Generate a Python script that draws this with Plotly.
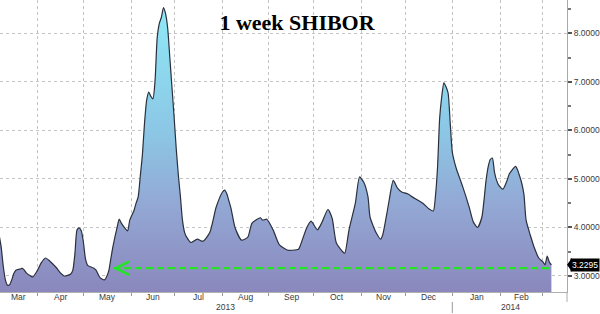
import plotly.graph_objects as go
import pandas as pd

# ---- data ----
dates = [
    "2013-03-06", "2013-03-07", "2013-03-08", "2013-03-11", "2013-03-12", "2013-03-13",
    "2013-03-14", "2013-03-15", "2013-03-18", "2013-03-20", "2013-03-21", "2013-03-22",
    "2013-03-25", "2013-03-27", "2013-03-28", "2013-04-01", "2013-04-03", "2013-04-05",
    "2013-04-09", "2013-04-12", "2013-04-16", "2013-04-18", "2013-04-23", "2013-04-24",
    "2013-04-25", "2013-04-26", "2013-04-29", "2013-04-30", "2013-05-01", "2013-05-02",
    "2013-05-03", "2013-05-08", "2013-05-09", "2013-05-13", "2013-05-15", "2013-05-17",
    "2013-05-20", "2013-05-21", "2013-05-23", "2013-05-24", "2013-05-27", "2013-05-29",
    "2013-05-30", "2013-05-31", "2013-06-04", "2013-06-05", "2013-06-06", "2013-06-07",
    "2013-06-10", "2013-06-11", "2013-06-12", "2013-06-13", "2013-06-14", "2013-06-17",
    "2013-06-18", "2013-06-19", "2013-06-20", "2013-06-21", "2013-06-24", "2013-06-25",
    "2013-06-26", "2013-06-27", "2013-06-28", "2013-07-01", "2013-07-02", "2013-07-03",
    "2013-07-04", "2013-07-05", "2013-07-08", "2013-07-09", "2013-07-11", "2013-07-16",
    "2013-07-18", "2013-07-19", "2013-07-24", "2013-07-29", "2013-08-01", "2013-08-02",
    "2013-08-05", "2013-08-06", "2013-08-07", "2013-08-09", "2013-08-14", "2013-08-19",
    "2013-08-21", "2013-08-27", "2013-08-28", "2013-08-30", "2013-09-04", "2013-09-09",
    "2013-09-13", "2013-09-17", "2013-09-20", "2013-09-23", "2013-09-26", "2013-09-30",
    "2013-10-03", "2013-10-07", "2013-10-10", "2013-10-14", "2013-10-16", "2013-10-21",
    "2013-10-22", "2013-10-24", "2013-10-29", "2013-10-31", "2013-11-04", "2013-11-06",
    "2013-11-07", "2013-11-12", "2013-11-14", "2013-11-15", "2013-11-19", "2013-11-20",
    "2013-11-22", "2013-11-26", "2013-11-28", "2013-12-03", "2013-12-05", "2013-12-12",
    "2013-12-17", "2013-12-19", "2013-12-20", "2013-12-23", "2013-12-24", "2013-12-25",
    "2013-12-26", "2013-12-27", "2013-12-30", "2013-12-31", "2014-01-01", "2014-01-02",
    "2014-01-03", "2014-01-08", "2014-01-13", "2014-01-15", "2014-01-17", "2014-01-21",
    "2014-01-23", "2014-01-24", "2014-01-27", "2014-01-28", "2014-01-29", "2014-01-30",
    "2014-01-31", "2014-02-04", "2014-02-06", "2014-02-07", "2014-02-12", "2014-02-13",
    "2014-02-14", "2014-02-17", "2014-02-18", "2014-02-19", "2014-02-21", "2014-02-25",
    "2014-02-27", "2014-03-03", "2014-03-04", "2014-03-05", "2014-03-06", "2014-03-07",
]
shibor = [
    3.85, 3.60, 3.20, 2.92, 2.81, 2.82,
    2.92, 3.05, 3.12, 3.14, 3.16, 3.12,
    3.06, 3.00, 2.98, 3.10, 3.27, 3.37,
    3.31, 3.18, 3.07, 3.00, 3.04, 3.12,
    3.47, 3.95, 3.99, 3.93, 3.70, 3.35,
    3.22, 3.16, 3.12, 2.96, 2.92, 3.10,
    3.35, 3.60, 4.00, 4.17, 4.09, 3.97,
    3.93, 4.15, 4.35, 4.50, 4.63, 5.06,
    5.50, 6.15, 6.62, 6.79, 6.70, 6.65,
    7.03, 7.90, 8.20, 8.33, 8.53, 8.40,
    8.10, 7.50, 6.90, 6.30, 5.65, 5.10,
    4.65, 4.15, 3.90, 3.80, 3.69, 3.76,
    3.72, 3.72, 3.90, 4.42, 4.73, 4.77,
    4.70, 4.55, 4.40, 3.99, 3.74, 3.80,
    4.09, 4.20, 4.15, 4.17, 3.95, 3.64,
    3.53, 3.53, 3.55, 3.64, 4.00, 4.13,
    3.95, 4.09, 4.37, 4.19, 3.68, 3.50,
    3.47, 3.95, 4.50, 5.04, 4.93, 4.63,
    4.21, 3.88, 3.76, 3.85, 4.30, 4.55,
    4.97, 4.81, 4.73, 4.69, 4.63, 4.50,
    4.38, 4.34, 4.65, 5.25, 6.25, 6.70,
    6.98, 6.90, 6.77, 6.15, 5.55, 5.35,
    5.20, 4.83, 4.42, 4.11, 4.00, 4.21,
    4.97, 5.25, 5.40, 5.43, 5.14, 4.97,
    4.87, 4.79, 4.97, 5.10, 5.26, 5.18,
    5.05, 4.90, 4.67, 4.15, 3.84, 3.57,
    3.37, 3.29, 3.23, 3.41, 3.29, 3.2295,
]

title_text = "1 week SHIBOR"
last_value = 3.2295
support_level = 3.16
support_start = "2013-05-21"
month_labels = ["Mar", "Apr", "May", "Jun", "Jul", "Aug", "Sep", "Oct", "Nov", "Dec", "Jan", "Feb"]
month_keys = ["2013-03", "2013-04", "2013-05", "2013-06", "2013-07", "2013-08",
              "2013-09", "2013-10", "2013-11", "2013-12", "2014-01", "2014-02"]
year_labels = ["2013", "2014"]
y_ticks = [3, 4, 5, 6, 7, 8]

x_range = ["2013-03-06 10:48", "2014-03-18 09:36"]
y_range = [2.67, 8.686]

GRID = "#c4c4c4"
TXT = "#3a3a3a"
FONT = "Liberation Sans, Arial, sans-serif"


def centre_of(start, end):
    """Middle of the business days between start and end (end exclusive)."""
    bd = pd.bdate_range(start, pd.Timestamp(end) - pd.Timedelta(days=1))
    n = len(bd)
    c = bd[n // 2]
    if n % 2 == 1:
        c = c + pd.Timedelta(hours=12)
    return c.strftime("%Y-%m-%d %H:%M")


r0 = pd.Timestamp(x_range[0]).normalize()
r1 = pd.Timestamp(x_range[1]).normalize() + pd.Timedelta(days=1)

fig = go.Figure()

fig.add_trace(go.Scatter(
    x=dates, y=shibor, mode="lines",
    line=dict(color="#2b303c", width=1.2, shape="spline", smoothing=0.6),
    fill="tozeroy",
    fillgradient=dict(
        type="vertical",
        colorscale=[[0.0, "#8a87bc"], [0.3, "#93a8d4"], [0.55, "#8cc6e5"], [1.0, "#8eeaf7"]],
        start=y_range[0], stop=8.6,
    ),
    hoverinfo="skip", showlegend=False,
))

# green dashed support line
fig.add_trace(go.Scatter(
    x=[support_start, dates[-1]], y=[support_level, support_level], mode="lines",
    line=dict(color="#22e622", width=2.2, dash="7px,4px"),
    hoverinfo="skip", showlegend=False,
))

annotations = []
annotations.append(dict(
    x=support_start, y=support_level, xref="x", yref="y", text="",
    showarrow=True, ax=9, ay=0, arrowhead=5, arrowsize=1.3, arrowwidth=2,
    arrowcolor="#22e622",
))

# month labels centred in each month period
for key, lab in zip(month_keys, month_labels):
    ms = pd.Timestamp(key + "-01")
    me = ms + pd.offsets.MonthBegin(1)
    s = max(ms, r0)
    e = min(me, r1)
    annotations.append(dict(
        x=centre_of(s, e), y=-0.018, xref="x", yref="paper", text=lab,
        showarrow=False, yanchor="middle", font=dict(family=FONT, size=8.5, color=TXT),
    ))

# year labels
for yl in year_labels:
    ys = pd.Timestamp(yl + "-01-01")
    ye = pd.Timestamp(str(int(yl) + 1) + "-01-01")
    s = max(ys, r0)
    e = min(ye, r1)
    annotations.append(dict(
        x=centre_of(s, e), y=-0.052, xref="x", yref="paper", text=yl,
        showarrow=False, yanchor="middle", font=dict(family=FONT, size=8.5, color=TXT),
    ))

# last value tag
annotations.append(dict(
    x=1, y=last_value, xref="paper", yref="y", text=f"{last_value:.4f}",
    showarrow=False, xanchor="left", xshift=3, yanchor="middle",
    bgcolor="black", borderpad=1, font=dict(family=FONT, size=8.5, color="white"),
))

shapes = [
    dict(type="path", xref="paper", xsizemode="pixel", xanchor=1,
         yref="y", ysizemode="pixel", yanchor=last_value,
         path="M0,0L5,7L5,-7Z", fillcolor="black", line=dict(width=0)),
    dict(type="line", xref="x", yref="paper", x0="2014-01-01", x1="2014-01-01",
         y0=-0.034, y1=-0.072, line=dict(color="#999999", width=1)),
    dict(type="line", xref="paper", yref="paper", x0=1, x1=1, y0=0, y1=-0.034,
         line=dict(color="#aaaaaa", width=1)),
]

fig.update_layout(
    width=600, height=314,
    margin=dict(l=0, r=33, t=0, b=22),
    paper_bgcolor="white", plot_bgcolor="white",
    title=dict(text="<b>" + title_text + "</b>", x=0.495, xanchor="center",
               y=0.93, yanchor="middle",
               font=dict(family="Liberation Serif, Times New Roman, serif", size=22, color="black")),
    xaxis=dict(
        type="date", range=x_range,
        rangebreaks=[dict(bounds=["sat", "mon"])],
        dtick="M1", tick0="2013-01-01", showticklabels=False,
        ticks="outside", ticklen=3, tickcolor="#999999",
        showgrid=True, gridcolor=GRID, griddash="dot", gridwidth=1,
        showline=True, linecolor="#b0b0b0", zeroline=False,
    ),
    yaxis=dict(
        side="right", range=y_range, tickmode="array", tickvals=y_ticks,
        tickformat=".4f", ticks="outside", ticklen=4, tickwidth=1.5, tickcolor="#555555",
        tickfont=dict(family=FONT, size=8.5, color=TXT),
        minor=dict(dtick=0.5, tick0=3, ticks="outside", ticklen=3, tickcolor="#777777", showgrid=False),
        showgrid=True, gridcolor=GRID, griddash="dot", gridwidth=1,
        showline=True, linecolor="#aaaaaa", zeroline=False,
    ),
    annotations=annotations,
    shapes=shapes,
    showlegend=False,
)

fig.write_html("out.html")
